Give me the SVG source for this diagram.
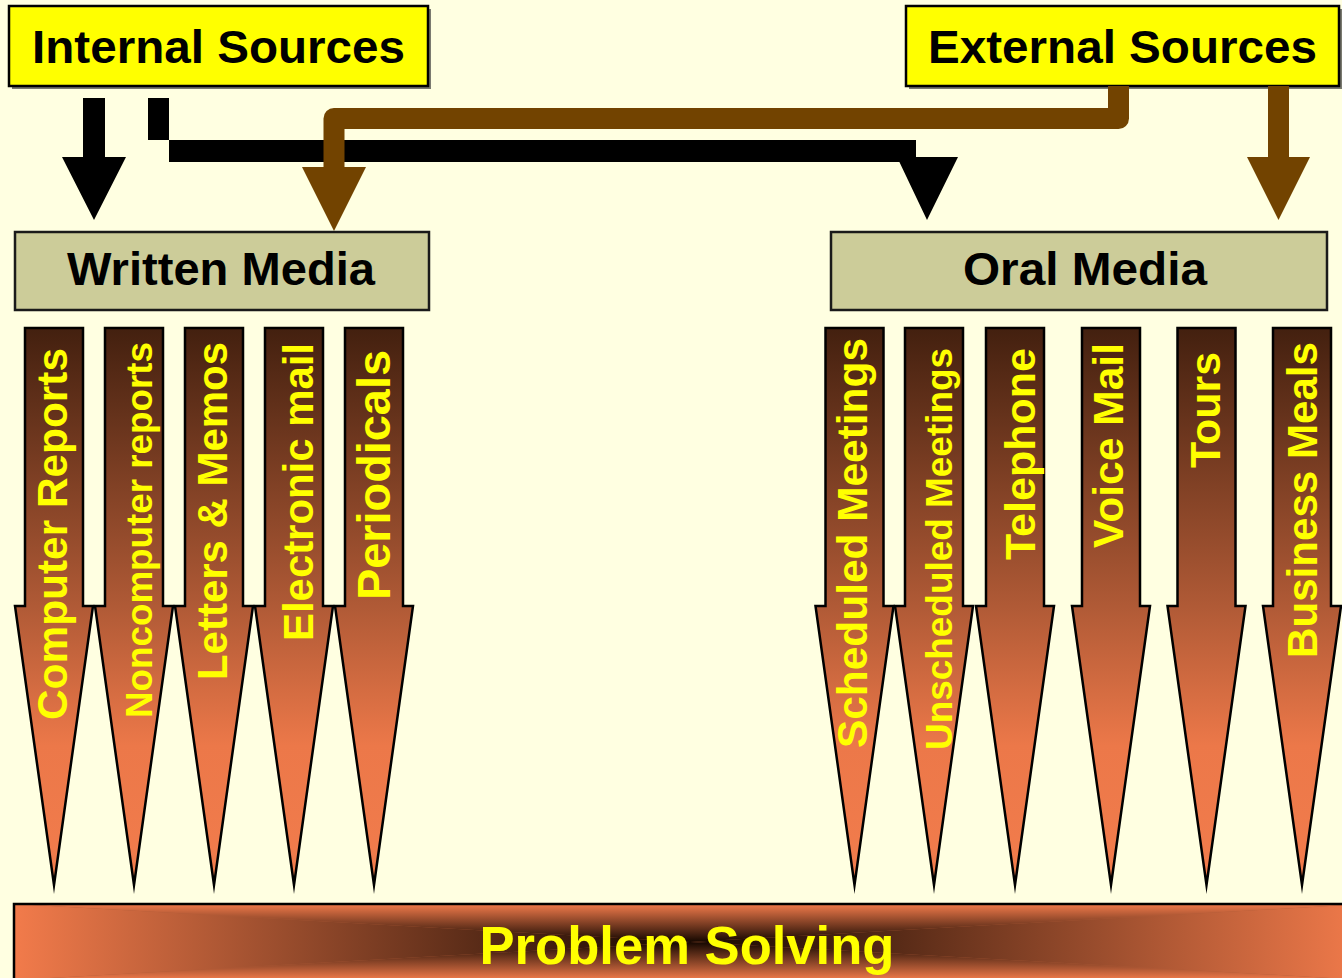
<svg xmlns="http://www.w3.org/2000/svg" width="1342" height="978" viewBox="0 0 1342 978">
<style>
.src{fill:#FFFF00;stroke:#000;stroke-width:2.5}
.shadow{fill:#7a7a70}
.media{fill:#CCCC99;stroke:#1a1a1a;stroke-width:2.5}
.t{font-family:"Liberation Sans",Arial,sans-serif;font-weight:bold}
.hd{font-size:47px;fill:#000;text-anchor:middle}
.vt{font-size:42px;fill:#FFFF00;text-anchor:middle}
.arr{fill:url(#ag);stroke:#000;stroke-width:2.5;stroke-miterlimit:12}
.blk{fill:#000}
.brn{fill:#724300}
</style>
<defs>
<linearGradient id="ag" gradientUnits="userSpaceOnUse" x1="0" y1="328" x2="0" y2="885">
<stop offset="0" stop-color="#43200F"/>
<stop offset="0.5" stop-color="#B05A36"/>
<stop offset="0.75" stop-color="#EC7849"/>
<stop offset="1" stop-color="#F27C4C"/>
</linearGradient>
<path id="arrow" d="M-29,328 H29 V606 H39 L0,885 L-39,606 H-29 Z"/>
<linearGradient id="gl" gradientUnits="userSpaceOnUse" x1="14" y1="0" x2="690" y2="0">
<stop offset="0" stop-color="#F27B4B"/><stop offset="1" stop-color="#140700"/>
</linearGradient>
<linearGradient id="gr" gradientUnits="userSpaceOnUse" x1="1366" y1="0" x2="690" y2="0">
<stop offset="0" stop-color="#F27B4B"/><stop offset="1" stop-color="#140700"/>
</linearGradient>
<linearGradient id="gt" gradientUnits="userSpaceOnUse" x1="0" y1="904" x2="0" y2="942">
<stop offset="0" stop-color="#F27B4B"/><stop offset="1" stop-color="#140700"/>
</linearGradient>
<linearGradient id="gb" gradientUnits="userSpaceOnUse" x1="0" y1="980" x2="0" y2="942">
<stop offset="0" stop-color="#F27B4B"/><stop offset="1" stop-color="#140700"/>
</linearGradient>
</defs>
<rect x="0" y="0" width="1342" height="978" fill="#FFFFE1"/>

<g id="internal-sources">
<rect class="shadow" x="12" y="9" width="419" height="80"/>
<rect class="src" x="9" y="6" width="419" height="80"/>
<text class="t hd" x="218.5" y="63" textLength="373" lengthAdjust="spacingAndGlyphs">Internal Sources</text>
</g>
<g id="external-sources">
<rect class="shadow" x="909" y="9" width="433" height="80"/>
<rect class="src" x="906" y="6" width="433" height="80"/>
<text class="t hd" x="1122.5" y="63" textLength="389" lengthAdjust="spacingAndGlyphs">External Sources</text>
</g>

<g id="connectors">
<polygon class="blk" points="83,98 105,98 105,157 126,157 94,220 62,157 83,157"/>
<rect class="blk" x="148" y="98" width="21" height="42"/>
<polygon class="blk" points="169,140 916,140 916,157 958,157 927,220 899.4,162 169,162"/>
<path d="M1118.5,86 V118.5 H334 V170" fill="none" stroke="#724300" stroke-width="21" stroke-linejoin="round"/>
<polygon class="brn" points="302,167 366,167 334,231"/>
<rect class="brn" x="1268" y="86" width="21" height="72"/>
<polygon class="brn" points="1247,157 1310,157 1278.5,220"/>
</g>

<g id="written-media">
<rect class="media" x="15" y="232" width="414" height="78"/>
<text class="t hd" x="221" y="285" textLength="308" lengthAdjust="spacingAndGlyphs">Written Media</text>
</g>
<g id="oral-media">
<rect class="media" x="831" y="232" width="496" height="78"/>
<text class="t hd" x="1085" y="285" textLength="244" lengthAdjust="spacingAndGlyphs">Oral Media</text>
</g>

<g id="computer-reports">
<use href="#arrow" class="arr" transform="translate(54,0)"/>
<text class="t vt" transform="translate(67,534) rotate(-90)" textLength="372" lengthAdjust="spacingAndGlyphs">Computer Reports</text>
</g>
<g id="noncomputer-reports">
<use href="#arrow" class="arr" transform="translate(134,0)"/>
<text class="t vt" style="font-size:37px" transform="translate(152,530) rotate(-90)" textLength="376" lengthAdjust="spacingAndGlyphs">Noncomputer reports</text>
</g>
<g id="letters-memos">
<use href="#arrow" class="arr" transform="translate(214,0)"/>
<text class="t vt" transform="translate(227,511) rotate(-90)" textLength="338" lengthAdjust="spacingAndGlyphs">Letters &amp; Memos</text>
</g>
<g id="electronic-mail">
<use href="#arrow" class="arr" transform="translate(294,0)"/>
<text class="t vt" transform="translate(313,492) rotate(-90)" textLength="298" lengthAdjust="spacingAndGlyphs">Electronic mail</text>
</g>
<g id="periodicals">
<use href="#arrow" class="arr" transform="translate(374,0)"/>
<text class="t vt" style="font-size:46px" transform="translate(390,475) rotate(-90)" textLength="250" lengthAdjust="spacingAndGlyphs">Periodicals</text>
</g>

<g id="scheduled-meetings">
<use href="#arrow" class="arr" transform="translate(854.5,0)"/>
<text class="t vt" transform="translate(867,543) rotate(-90)" textLength="410" lengthAdjust="spacingAndGlyphs">Scheduled Meetings</text>
</g>
<g id="unscheduled-meetings">
<use href="#arrow" class="arr" transform="translate(934,0)"/>
<text class="t vt" style="font-size:37px" transform="translate(952,549) rotate(-90)" textLength="402" lengthAdjust="spacingAndGlyphs">Unscheduled Meetings</text>
</g>
<g id="telephone">
<use href="#arrow" class="arr" transform="translate(1015,0)"/>
<text class="t vt" transform="translate(1035,454) rotate(-90)" textLength="212" lengthAdjust="spacingAndGlyphs">Telephone</text>
</g>
<g id="voice-mail">
<use href="#arrow" class="arr" transform="translate(1111,0)"/>
<text class="t vt" transform="translate(1123,445.5) rotate(-90)" textLength="205" lengthAdjust="spacingAndGlyphs">Voice Mail</text>
</g>
<g id="tours">
<use href="#arrow" class="arr" transform="translate(1206.5,0)"/>
<text class="t vt" transform="translate(1220,410) rotate(-90)" textLength="116" lengthAdjust="spacingAndGlyphs">Tours</text>
</g>
<g id="business-meals">
<use href="#arrow" class="arr" transform="translate(1302,0)"/>
<text class="t vt" transform="translate(1317,500) rotate(-90)" textLength="316" lengthAdjust="spacingAndGlyphs">Business Meals</text>
</g>

<g id="problem-solving">
<rect x="14" y="904" width="1352" height="76" fill="#B05A36"/>
<polygon points="14,904 690,942 14,980" fill="url(#gl)"/>
<polygon points="1366,904 690,942 1366,980" fill="url(#gr)"/>
<polygon points="14,904 1366,904 690,942" fill="url(#gt)"/>
<polygon points="14,980 1366,980 690,942" fill="url(#gb)"/>
<path d="M14,990 V904 H1366" fill="none" stroke="#000" stroke-width="2.5"/>
<text class="t" x="687" y="964" font-size="53" fill="#FFFF00" text-anchor="middle" textLength="415" lengthAdjust="spacingAndGlyphs">Problem Solving</text>
</g>
</svg>
